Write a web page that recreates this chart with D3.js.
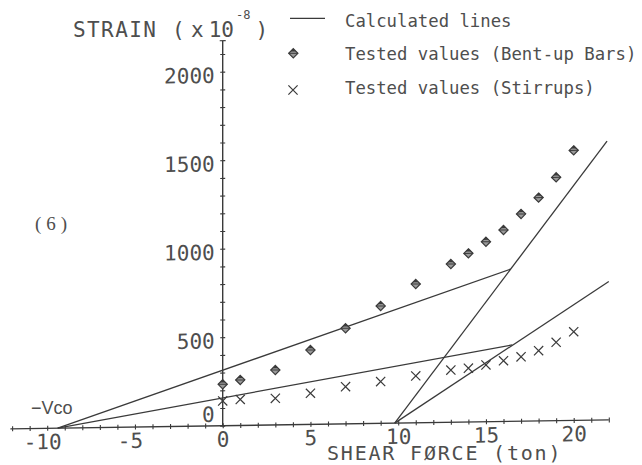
<!DOCTYPE html>
<html>
<head>
<meta charset="utf-8">
<script src="https://cdnjs.cloudflare.com/ajax/libs/d3/7.8.5/d3.min.js"></script>
<style>
  html, body { margin: 0; padding: 0; background: #fff; }
  svg { display: block; }
  .mono { font-family: "DejaVu Sans Mono", monospace; }
</style>
</head>
<body>
<svg id="chart" width="642" height="465"></svg>
<script>
// Shear force (ton) at which strains were measured
const shearForce = [0, 1, 3, 5, 7, 9, 11, 13, 14, 15, 16, 17, 18, 19, 20];
// Measured strain (x10^-8) in bent-up bars
const bentUpStrain = [234, 257, 310, 420, 540, 663, 784, 894, 953, 1017, 1082, 1171, 1262, 1375, 1526];
// Measured strain (x10^-8) in stirrups
const stirrupStrain = [140, 147, 150, 176, 210, 236, 265, 295, 304, 321, 343, 364, 397, 443, 501];

// Calculated lines: end points (shear force, strain)
const calcLineX = [[-9.4, 16.4], [-9.4, 16.5], [9.8, 21.9], [9.8, 22.0]];
const calcLineY = [[0, 860], [0, 432], [0, 1575], [0, 782]];

// Axis ticks
const xMinorTicks = d3.range(-12, 23, 1);
const xLabelTicks = [-10, -5, 0, 5, 10, 15, 20];
const yMinorTicks = d3.range(0, 2200, 100);
const yLabelTicks = [0, 500, 1000, 1500, 2000];
const xExtent = [-12.1, 22.0];
const yTop = 2175;

const legendLabels = ["Calculated lines", "Tested values (Bent-up Bars)", "Tested values (Stirrups)"];

const ink = "#3a3a3a";
const textInk = "#4e4e4e";

const svg = d3.select("#chart");
svg.append("rect").attr("width", 642).attr("height", 465).attr("fill", "#fff");

const x = d3.scaleLinear().domain([0, 20]).range([222.7, 573.7]);
const y = d3.scaleLinear().domain([0, 2000]).range([425.7, 71.7]);

// plotting area (slightly sheared, as plotted)
const plot = svg.append("g").attr("transform", "translate(0,3.34) skewY(-0.86)");

// x axis
const xAxisG = plot.append("g").attr("transform", `translate(0,${y(0)})`)
  .call(d3.axisBottom(x).tickValues(xMinorTicks).tickFormat("").tickSizeOuter(0));
xAxisG.select(".domain").remove();
xAxisG.selectAll(".tick line").attr("y1", -2.5).attr("y2", 2.5).attr("stroke", ink).attr("stroke-width", 1.1);
xAxisG.append("line").attr("x1", x(xExtent[0])).attr("x2", x(xExtent[1]))
  .attr("stroke", ink).attr("stroke-width", 1.4);

// x tick labels
const xLabG = plot.append("g").attr("transform", `translate(0,${y(0) + 13.5})`)
  .call(d3.axisBottom(x).tickValues(xLabelTicks).tickSize(0)
    .tickFormat(d => d < 0 ? "-" + Math.abs(d) : String(d)));
xLabG.select(".domain").remove();
xLabG.selectAll(".tick text")
  .attr("class", "mono").attr("y", 0).attr("dy", "0.35em")
  .attr("dx", d => d < 0 ? -5 : 0)
  .attr("font-size", 21).attr("fill", textInk);

// y axis
const yAxisG = plot.append("g").attr("transform", `translate(${x(0)},0)`)
  .call(d3.axisLeft(y).tickValues(yMinorTicks).tickFormat("").tickSizeOuter(0));
yAxisG.select(".domain").remove();
yAxisG.selectAll(".tick line").attr("x1", -2.5).attr("x2", 2.5).attr("stroke", ink).attr("stroke-width", 1.1);
yAxisG.append("line").attr("y1", y(0)).attr("y2", y(yTop)).attr("stroke", ink).attr("stroke-width", 1.4);
yAxisG.append("line").attr("x1", -3).attr("x2", 3).attr("y1", y(yTop)).attr("y2", y(yTop))
  .attr("stroke", ink).attr("stroke-width", 1.2);

// y tick labels
const yLabG = plot.append("g").attr("transform", `translate(${x(0) - 8},0)`)
  .call(d3.axisLeft(y).tickValues(yLabelTicks).tickSize(0).tickFormat(d3.format("d")));
yLabG.select(".domain").remove();
yLabG.selectAll(".tick text")
  .attr("class", "mono").attr("x", 0).attr("dy", d => d === 0 ? "-0.22em" : "0.5em")
  .attr("font-size", 21).attr("fill", textInk);

// calculated lines
const line = d3.line().x(d => x(d[0])).y(d => y(d[1]));
plot.append("g").selectAll("path")
  .data(calcLineX.map((xs, i) => xs.map((xv, j) => [xv, calcLineY[i][j]])))
  .join("path")
  .attr("d", line)
  .attr("fill", "none").attr("stroke", ink).attr("stroke-width", 1.3);

// markers
function diamond(g, cx, cy) {
  const r = 4.6;
  g.append("path")
    .attr("d", `M${cx},${cy - r}L${cx + r},${cy}L${cx},${cy + r}L${cx - r},${cy}Z`)
    .attr("fill", "#9a9a9a").attr("stroke", ink).attr("stroke-width", 1.2);
  g.append("line").attr("x1", cx - r).attr("x2", cx + r).attr("y1", cy).attr("y2", cy)
    .attr("stroke", ink).attr("stroke-width", 1);
  g.append("path")
    .attr("d", `M${cx},${cy - r}L${cx + r * 0.6},${cy - r * 0.4}L${cx - r * 0.6},${cy - r * 0.4}Z`)
    .attr("fill", ink);
}
function cross(g, cx, cy) {
  const r = 4.6;
  g.append("path")
    .attr("d", `M${cx - r},${cy - r}L${cx + r},${cy + r}M${cx - r},${cy + r}L${cx + r},${cy - r}`)
    .attr("stroke", ink).attr("stroke-width", 1.2).attr("fill", "none");
}

const bentG = plot.append("g");
shearForce.forEach((f, i) => diamond(bentG, x(f), y(bentUpStrain[i])));
const stirG = plot.append("g");
shearForce.forEach((f, i) => cross(stirG, x(f), y(stirrupStrain[i])));

// axis titles
const yTitle = svg.append("text").attr("class", "mono").attr("fill", textInk).attr("font-size", 21).attr("y", 37);
yTitle.append("tspan").attr("x", 73).attr("letter-spacing", 1.4).text("STRAIN");
yTitle.append("tspan").attr("x", 172).text("(");
yTitle.append("tspan").attr("x", 191).text("x");
yTitle.append("tspan").attr("x", 208.7).text("10");
yTitle.append("tspan").attr("x", 236).attr("y", 18.5).attr("font-size", 12).text("-8");
yTitle.append("tspan").attr("x", 255.4).attr("y", 37).text(")");

svg.append("text").attr("class", "mono").attr("fill", textInk).attr("font-size", 20)
  .attr("x", 327).attr("y", 459.5).attr("letter-spacing", 1.8).text("SHEAR FØRCE (ton)");

svg.append("text").attr("fill", textInk).attr("font-family", "Liberation Sans, Arial, sans-serif")
  .attr("font-size", 18).attr("x", 31).attr("y", 413.5).text("\u2212Vco");

svg.append("text").attr("fill", textInk).attr("font-family", "Liberation Serif, serif")
  .attr("font-size", 19).attr("x", 35).attr("y", 230).attr("letter-spacing", 5).text("(6)");

// legend
const legend = svg.append("g");
legend.append("line").attr("x1", 290).attr("x2", 325).attr("y1", 18.3).attr("y2", 18.3)
  .attr("stroke", ink).attr("stroke-width", 1.3);
diamond(legend, 293.3, 53.3);
cross(legend, 293, 90);
const legendY = [26.5, 60, 94];
legend.selectAll("text").data(legendLabels).join("text")
  .attr("class", "mono").attr("fill", textInk).attr("font-size", 17.3)
  .attr("x", 345).attr("y", (d, i) => legendY[i]).text(d => d);
</script>
</body>
</html>
